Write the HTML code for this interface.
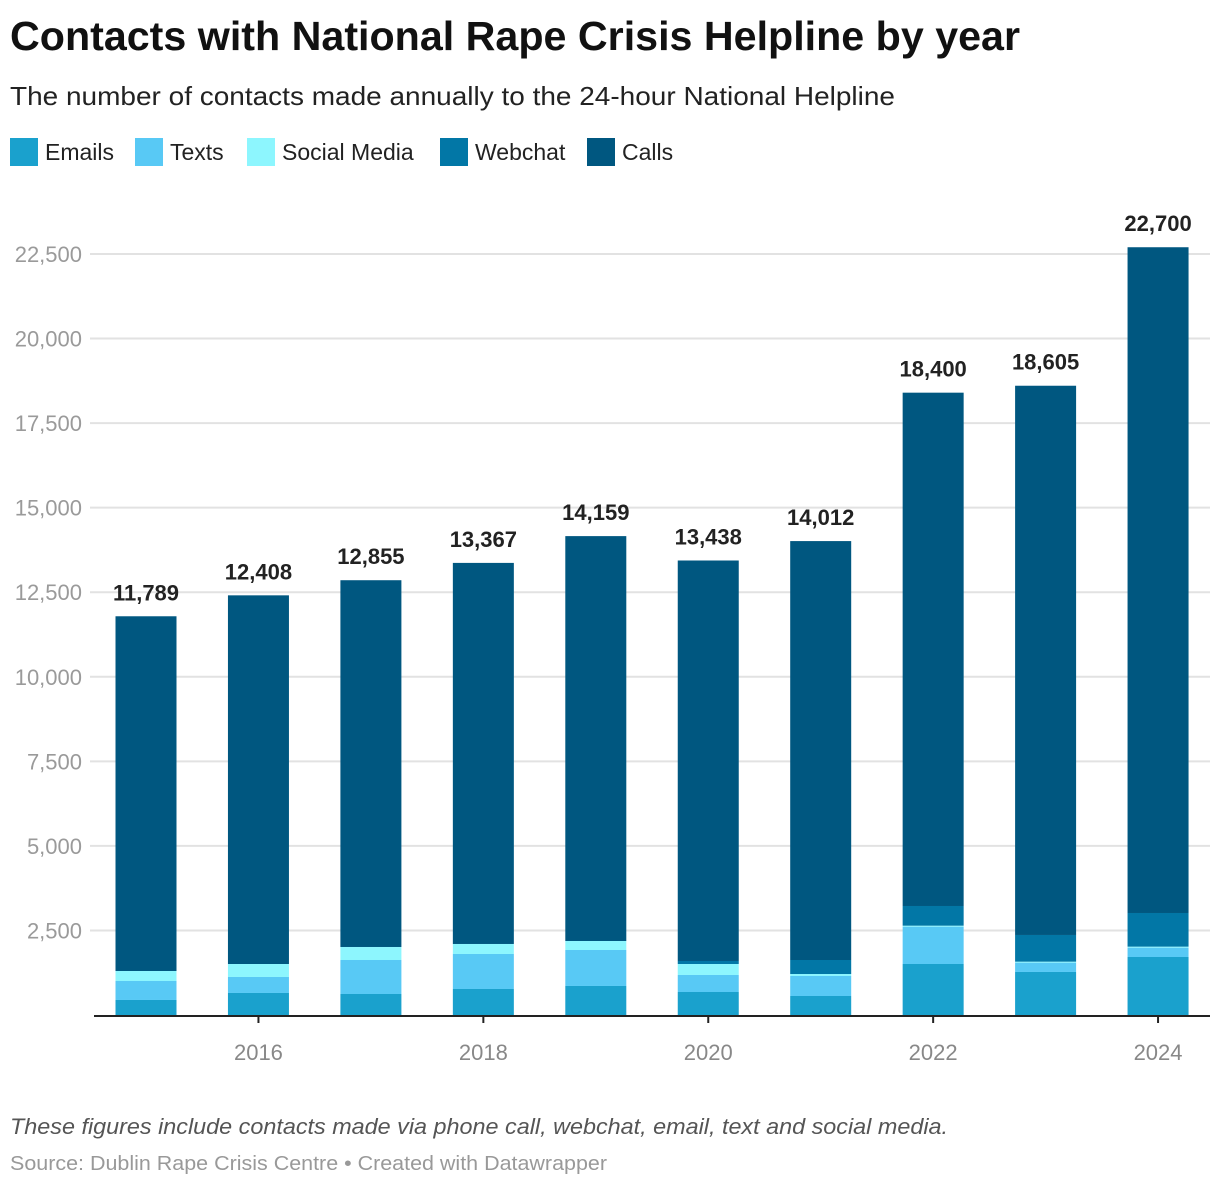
<!DOCTYPE html>
<html><head><meta charset="utf-8"><style>
body{margin:0;background:#fff;font-family:"Liberation Sans",Arial,sans-serif;width:1220px;height:1186px;overflow:hidden}
</style></head><body>
<svg width="1220" height="1186" id="svg" xmlns="http://www.w3.org/2000/svg" font-family="Liberation Sans, Arial, sans-serif">
<text x="10" y="50" font-size="41" font-weight="bold" fill="#111" textLength="1010" lengthAdjust="spacingAndGlyphs">Contacts with National Rape Crisis Helpline by year</text>
<text x="10" y="105" font-size="26" fill="#222" textLength="885" lengthAdjust="spacingAndGlyphs">The number of contacts made annually to the 24-hour National Helpline</text>
<g id="legend"></g>
<g id="grid"></g><g id="bars"></g><g id="labels"></g>
<text x="10" y="1134" font-size="22" font-style="italic" fill="#555" textLength="938" lengthAdjust="spacingAndGlyphs">These figures include contacts made via phone call, webchat, email, text and social media.</text>
<text x="10" y="1170" font-size="20" fill="#999" textLength="597" lengthAdjust="spacingAndGlyphs">Source: Dublin Rape Crisis Centre • Created with Datawrapper</text>
</svg>
<script>
const years=[2015,2016,2017,2018,2019,2020,2021,2022,2023,2024];
const totals=[11789,12408,12855,13367,14159,13438,14012,18400,18605,22700];
const emails=[444,651,621,769,858,680,562,1508,1272,1715];
const texts=[561,473,1005,1035,1064,503,591,1104,276,276];
const social=[296,384,385,296,266,325,59,29,29,30];
const webchat=[0,0,0,0,0,89,414,582,789,995];
const yTicks=[2500,5000,7500,10000,12500,15000,17500,20000,22500];
const xTicks=[2016,2018,2020,2022,2024];
const seriesNames=["Emails","Texts","Social Media","Webchat","Calls"];
const colors=["#1aa1cd","#58c9f5","#8df6fe","#0277a6","#005780"];
const NS="http://www.w3.org/2000/svg";
const y0=1015,pxPer=(1015-254)/22500;
const y=v=>y0-v*pxPer;
const x=yr=>146+(yr-2015)*112.45;
const bw=61;
function mk(t,a,p){const e=document.createElementNS(NS,t);for(const k in a)e.setAttribute(k,a[k]);p.appendChild(e);return e;}
const lg=document.getElementById('legend');
const lxs=[10,135,247,440,587];
seriesNames.forEach((n,i)=>{
  const lx=lxs[i];
  const r=mk('rect',{x:lx,y:138,width:28,height:28,fill:colors[i]},lg);
  
  
  const t=mk('text',{x:lx+35,y:160,'font-size':23,fill:'#222'},lg);t.textContent=n;
  
  
});
const g=document.getElementById('grid');
yTicks.forEach(v=>{
  const l=mk('line',{x1:90,x2:1210,y1:y(v),y2:y(v),stroke:'#e2e2e2','stroke-width':2},g);
  
  
  const t=mk('text',{x:82,y:y(v)+8,'font-size':22,fill:'#9a9a9a','text-anchor':'end'},g);t.textContent=v.toLocaleString('en-US');
  
  
});
const b=document.getElementById('bars'),lb=document.getElementById('labels');
years.forEach((yr,i)=>{
  const calls=totals[i]-emails[i]-texts[i]-social[i]-webchat[i];
  const vals=[emails[i],texts[i],social[i],webchat[i],calls];
  let acc=0;
  vals.forEach((v,j)=>{
    if(v<=0)return;
    const r=mk('rect',{x:x(yr)-bw/2,y:y(acc+v),width:bw,height:v*pxPer,fill:colors[j]},b);
    
    
    acc+=v;
  });
  const t=mk('text',{x:x(yr),y:y(totals[i])-16,'font-size':22,'font-weight':'bold',fill:'#222','text-anchor':'middle'},lb);
  t.textContent=totals[i].toLocaleString('en-US');
  
  
});
const ax=mk('line',{x1:94,x2:1210,y1:1016,y2:1016,stroke:'#222','stroke-width':2},lb);


xTicks.forEach(yr=>{
  mk('line',{x1:x(yr),x2:x(yr),y1:1016,y2:1023,stroke:'#222','stroke-width':2},lb);
  const t=mk('text',{x:x(yr),y:1060,'font-size':22,fill:'#888','text-anchor':'middle'},lb);t.textContent=yr;
  
  
});
</script>
</body></html>
